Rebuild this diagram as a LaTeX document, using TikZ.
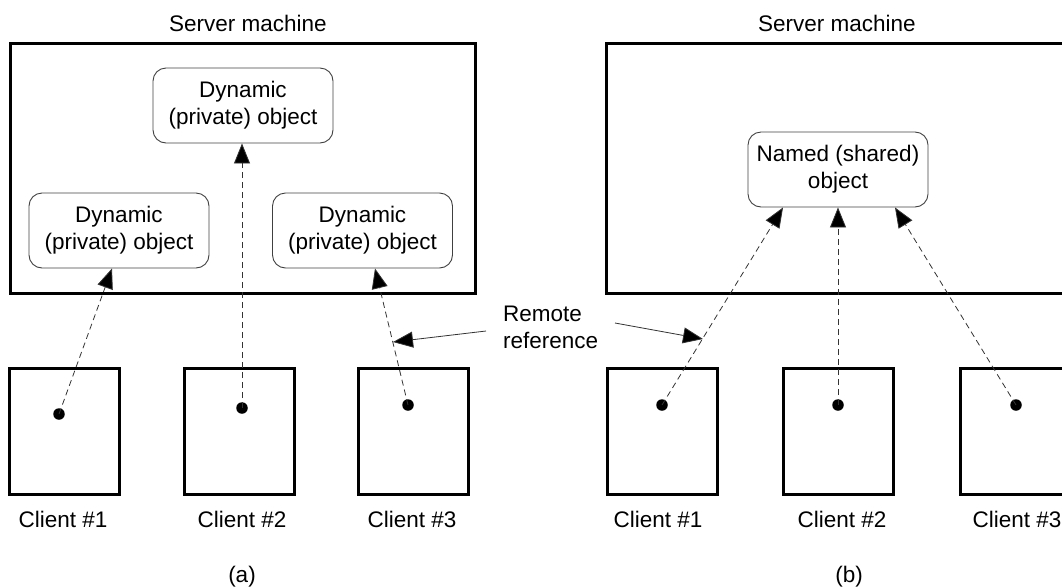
\documentclass[tikz,border=0pt]{standalone}
\usepackage{fontspec}
\setmainfont{Liberation Sans}
\usetikzlibrary{arrows.meta,calc}
\begin{document}
\begin{tikzpicture}[x=1pt,y=-1pt,
  every node/.style={font=\fontsize{22.5}{27}\selectfont, inner sep=0pt},
  server/.style={draw, line width=3pt, minimum width=465pt, minimum height=250pt},
  client/.style={draw, line width=3pt, minimum width=110pt, minimum height=126pt},
  obj/.style={draw=black!75, line width=0.9pt, rounded corners=13pt, minimum width=180pt, minimum height=75pt, align=center},
  dotnode/.style={circle, fill=black, minimum size=11.5pt},
  ref/.style={dash pattern=on 6pt off 4pt, line width=0.8pt, black!80, -{Triangle[length=20pt,width=16pt,fill=black]}},
  pointer/.style={line width=0.8pt, black!80, -{Triangle[length=20pt,width=16pt,fill=black]}},
  lbl/.style={}
]
\useasboundingbox (0,0) rectangle (1062,587);

% (a)
\node[lbl] (sma) at (248,23) {Server machine};
\node[server] (sa) at (242.5,168) {};
\node[obj] (oT) at (243,105.5) {Dynamic\\(private) object};
\node[obj] (oL) at (119,230.5) {Dynamic\\(private) object};
\node[obj] (oR) at (362.5,230.5) {Dynamic\\(private) object};

\node[client] (ca1) at (64,431) {};
\node[client] (ca2) at (239,431) {};
\node[client] (ca3) at (413.5,431) {};
\node[dotnode] (da1) at (59,414) {};
\node[dotnode] (da2) at (242,408) {};
\node[dotnode] (da3) at (408,405) {};
\node[lbl] (la1) at (63,519) {Client \#1};
\node[lbl] (la2) at (242,519) {Client \#2};
\node[lbl] (la3) at (412,519) {Client \#3};
\node[lbl] (capa) at (242,577) {(a)};

\draw[ref] (da1.center) -- ($(oL.south)+(-7,0)$);
\draw[ref] (da2.center) -- (da2 |- oT.south);
\draw[ref] (da3.center) -- ($(oR.south)+(12.5,0)$);

% (b)
\node[lbl] (smb) at (837,23) {Server machine};
\node[server] (sb) at (838.5,168) {};
\node[obj] (oN) at (838,169.5) {Named (shared)\\object};

\node[client] (cb1) at (662,431) {};
\node[client] (cb2) at (838.5,431) {};
\node[client] (cb3) at (1015.5,431) {};
\node[dotnode] (db1) at (662,405) {};
\node[dotnode] (db2) at (838,405) {};
\node[dotnode] (db3) at (1016,405) {};
\node[lbl] (lb1) at (658,519) {Client \#1};
\node[lbl] (lb2) at (842,519) {Client \#2};
\node[lbl] (lb3) at (1017,519) {Client \#3};
\node[lbl] (capb) at (849,577) {(b)};

\draw[ref] (db1.center) -- ($(oN.south)+(-55,0)$);
\draw[ref] (db2.center) -- (db2 |- oN.south);
\draw[ref] (db3.center) -- ($(oN.south)+(57,0)$);

% Remote reference
\node[lbl, anchor=west, align=left] (rr) at (503,327) {Remote\\reference};
\coordinate (rrl) at (486,331);
\coordinate (rrr) at (615,323);
\coordinate (tl) at (393,342);
\coordinate (tr) at (703,339);
\draw[pointer] (rrl) -- (tl);
\draw[pointer] (rrr) -- (tr);
\end{tikzpicture}
\end{document}
